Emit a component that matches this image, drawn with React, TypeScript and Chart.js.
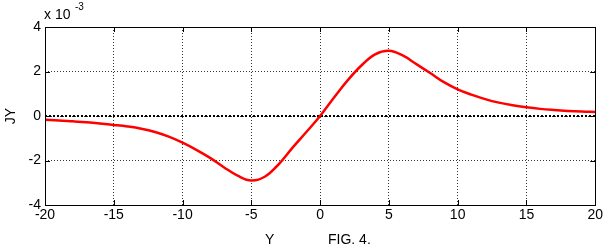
import React, { useEffect, useRef } from "react";
import { Chart, registerables } from "chart.js";

Chart.register(...registerables);

const xValues = [-20,-19,-18,-17,-16,-15,-14,-13,-12,-11,-10,-9,-8,-7,-6,-5,-4,-3,-2,-1,0,1,2,3,4,5,6,7,8,9,10,11,12,13,14,15,16,17,18,19,20];
const jyValues = [-0.17,-0.2,-0.24,-0.28,-0.34,-0.4,-0.47,-0.57,-0.72,-0.93,-1.2,-1.52,-1.88,-2.3,-2.68,-2.9,-2.72,-2.16,-1.42,-0.72,0,0.82,1.6,2.27,2.77,2.93,2.72,2.33,1.93,1.52,1.2,0.96,0.76,0.6,0.48,0.39,0.32,0.27,0.23,0.2,0.18];
const xTicks = [-20,-15,-10,-5,0,5,10,15,20];
const yTicks = [-4,-2,0,2,4];
const zeroLine = [0, 0];

const FONT = "'Liberation Sans', Arial, sans-serif";

const framePlugin = {
  id: "frame",
  afterDraw(chart: any) {
    const { ctx, chartArea: a, scales } = chart;
    ctx.save();
    ctx.strokeStyle = "#000";
    ctx.lineWidth = 1;
    ctx.setLineDash([]);
    ctx.beginPath();
    for (const t of xTicks) {
      const px = Math.round(scales.x.getPixelForValue(t)) + 0.5;
      ctx.moveTo(px, a.bottom); ctx.lineTo(px, a.bottom - 5);
      ctx.moveTo(px, a.top); ctx.lineTo(px, a.top + 5);
    }
    for (const t of yTicks) {
      const py = Math.round(scales.y.getPixelForValue(t)) + 0.5;
      ctx.moveTo(a.left, py); ctx.lineTo(a.left + 5, py);
      ctx.moveTo(a.right, py); ctx.lineTo(a.right - 5, py);
    }
    ctx.stroke();
    ctx.strokeRect(Math.round(a.left) + 0.5, Math.round(a.top) + 0.5, Math.round(a.right - a.left), Math.round(a.bottom - a.top));
    ctx.fillStyle = "#000";
    ctx.font = `14px ${FONT}`;
    ctx.textBaseline = "alphabetic";
    ctx.textAlign = "left";
    ctx.fillText("x 10", 44, 19);
    ctx.font = `10px ${FONT}`;
    ctx.fillText("-3", 75, 10);
    ctx.font = `14px ${FONT}`;
    ctx.fillText("Y", 265, 244);
    ctx.fillText("FIG. 4.", 328, 244);
    ctx.save();
    ctx.translate(15, 116);
    ctx.rotate(-Math.PI / 2);
    ctx.textAlign = "center";
    ctx.fillText("JY", 0, 0);
    ctx.restore();
    ctx.restore();
  },
};

export default function App() {
  const ref = useRef<HTMLCanvasElement>(null);
  useEffect(() => {
    document.body.style.margin = "0";
    const chart = new Chart(ref.current!, {
      type: "line",
      data: {
        datasets: [
          {
            data: [xTicks[0], xTicks[xTicks.length - 1]].map((x, i) => ({ x, y: zeroLine[i] })),
            borderColor: "#000",
            borderWidth: 2,
            borderDash: [2, 2],
            pointRadius: 0,
            order: 2,
          },
          {
            data: xValues.map((x, i) => ({ x, y: jyValues[i] })),
            borderColor: "#ff0000",
            borderWidth: 2.5,
            pointRadius: 0,
            tension: 0.4,
            order: 1,
          },
        ],
      },
      options: {
        animation: false,
        responsive: false,
        maintainAspectRatio: false,
        layout: { padding: { top: 27, right: 4, left: 0, bottom: 0 } },
        plugins: { legend: { display: false }, tooltip: { enabled: false } },
        scales: {
          x: {
            type: "linear",
            min: -20,
            max: 20,
            afterBuildTicks: (s: any) => { s.ticks = xTicks.map((v) => ({ value: v })); },
            afterFit: (s: any) => { s.height = 41; },
            ticks: { color: "#000", font: { family: FONT, size: 14 }, padding: 2, maxRotation: 0 },
            grid: { color: "#000", lineWidth: 0.8, drawTicks: false },
            border: { display: false, dash: [1, 2] },
          },
          y: {
            type: "linear",
            min: -4,
            max: 4,
            afterBuildTicks: (s: any) => { s.ticks = yTicks.map((v) => ({ value: v })); },
            afterFit: (s: any) => { s.width = 45; },
            ticks: { color: "#000", font: { family: FONT, size: 14 }, padding: 4 },
            grid: { color: "#000", lineWidth: 0.8, drawTicks: false },
            border: { display: false, dash: [1, 2] },
          },
        },
      },
      plugins: [framePlugin],
    });
    return () => chart.destroy();
  }, []);
  return (
    <div style={{ position: "absolute", left: 0, top: 0, width: 605, height: 246, background: "#fff" }}>
      <canvas ref={ref} width={605} height={246} />
    </div>
  );
}
